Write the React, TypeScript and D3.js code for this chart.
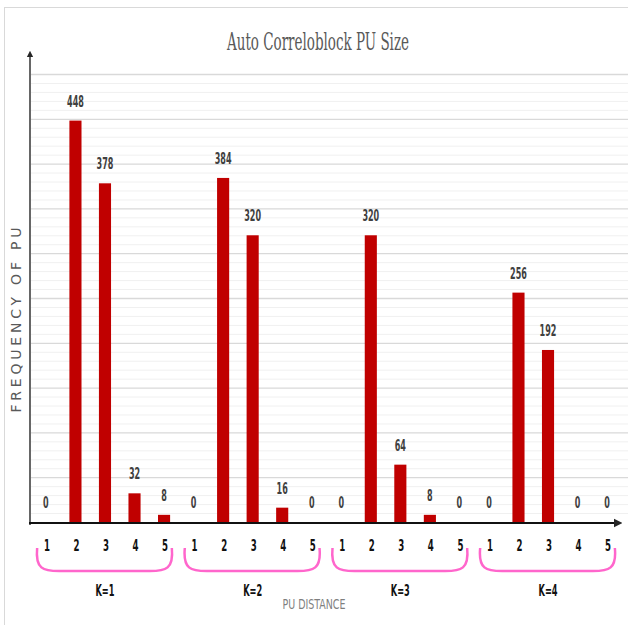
import React, { useEffect, useRef } from "react";
import * as d3 from "d3";

const groups = ["K=1", "K=2", "K=3", "K=4"];
const distances = ["1", "2", "3", "4", "5"];
const k1Values = [0, 448, 378, 32, 8];
const k2Values = [0, 384, 320, 16, 0];
const k3Values = [0, 320, 64, 8, 0];
const k4Values = [0, 256, 192, 0, 0];
const seriesValues = [k1Values, k2Values, k3Values, k4Values];

const title = "Auto Correloblock PU Size";
const xAxisLabel = "PU DISTANCE";
const yAxisLabel = "FREQUENCY OF PU";

type Row = { key: string; group: string; dist: string; value: number };

const condensed = "'DejaVu Sans Condensed', 'Liberation Sans Narrow', 'Arial Narrow', sans-serif";

const App = () => {
  const ref = useRef<SVGSVGElement>(null);
  const width = 628;
  const height = 625;
  const margin = { top: 74, right: 6, bottom: 103, left: 31 };

  useEffect(() => {
    const svg = d3.select(ref.current);
    svg.selectAll("*").remove();

    const rows: Row[] = [];
    groups.forEach((g, gi) =>
      distances.forEach((d, di) =>
        rows.push({ key: `${g}-${d}`, group: g, dist: d, value: seriesValues[gi][di] })
      )
    );

    const baseY = height - margin.bottom;
    const x = d3
      .scaleBand()
      .domain(rows.map((r) => r.key))
      .range([margin.left, width - margin.right])
      .paddingInner(0.59)
      .paddingOuter(0.3);
    const y = d3.scaleLinear().domain([0, 500]).range([baseY, margin.top]);

    // outer border
    svg
      .append("rect")
      .attr("x", 4.5)
      .attr("y", 7.5)
      .attr("width", 700)
      .attr("height", 700)
      .attr("fill", "#fff")
      .attr("stroke", "#d9d9d9");

    // title
    svg
      .append("text")
      .attr("x", 318)
      .attr("y", 50)
      .attr("text-anchor", "middle")
      .attr("font-family", "'DejaVu Serif Condensed', 'Liberation Serif', serif")
      .attr("font-size", 24)
      .attr("fill", "#595959")
      .attr("textLength", 182)
      .attr("lengthAdjust", "spacingAndGlyphs")
      .text(title);

    // gridlines
    const grid = svg.append("g");
    y.ticks(50)
      .filter((t) => t > 0)
      .forEach((t) => {
        grid
          .append("line")
          .attr("x1", margin.left)
          .attr("x2", width)
          .attr("y1", y(t) + 0.5)
          .attr("y2", y(t) + 0.5)
          .attr("stroke", t % 50 === 0 ? "#d9d9d9" : "#f0f0f0")
          .attr("stroke-width", t % 50 === 0 ? 1.3 : 1);
      });

    // bars
    svg
      .append("g")
      .selectAll("rect")
      .data(rows)
      .join("rect")
      .attr("x", (d) => x(d.key)!)
      .attr("width", x.bandwidth())
      .attr("y", (d) => y(d.value))
      .attr("height", (d) => baseY - y(d.value))
      .attr("fill", "#c00000");

    // value labels
    svg
      .append("g")
      .selectAll("text")
      .data(rows)
      .join("text")
      .attr("x", (d) => x(d.key)! + x.bandwidth() / 2)
      .attr("y", (d) => y(d.value) - 14)
      .attr("text-anchor", "middle")
      .attr("font-family", condensed)
      .attr("font-weight", "bold")
      .attr("font-size", 15)
      .attr("fill", "#404040")
      .attr("textLength", (d) => String(d.value).length * 5.6)
      .attr("lengthAdjust", "spacingAndGlyphs")
      .text((d) => d.value);

    // axes
    const defs = svg.append("defs");
    defs
      .append("marker")
      .attr("id", "arrowY")
      .attr("viewBox", "0 0 10 10")
      .attr("refX", 5)
      .attr("refY", 5)
      .attr("markerWidth", 4)
      .attr("markerHeight", 5)
      .attr("orient", "auto")
      .append("path")
      .attr("d", "M0,0 L10,5 L0,10 z")
      .attr("fill", "#262626");

    svg
      .append("line")
      .attr("x1", 30)
      .attr("x2", 30)
      .attr("y1", baseY + 3)
      .attr("y2", 54)
      .attr("stroke", "#404040")
      .attr("stroke-width", 1.6)
      .attr("marker-end", "url(#arrowY)");

    svg
      .append("line")
      .attr("x1", 29)
      .attr("x2", 618)
      .attr("y1", baseY + 1)
      .attr("y2", baseY + 1)
      .attr("stroke", "#111")
      .attr("stroke-width", 2.2)
      .attr("marker-end", "url(#arrowY)");

    // category tick labels
    svg
      .append("g")
      .selectAll("text")
      .data(rows)
      .join("text")
      .attr("x", (d) => x(d.key)! + x.bandwidth() / 2 + 1)
      .attr("y", 551)
      .attr("text-anchor", "middle")
      .attr("font-family", condensed)
      .attr("font-weight", "bold")
      .attr("font-size", 15)
      .attr("fill", "#111")
      .attr("textLength", 6)
      .attr("lengthAdjust", "spacingAndGlyphs")
      .text((d) => d.dist);

    // group braces and labels
    const step = x.step();
    groups.forEach((g) => {
      const first = x(`${g}-${distances[0]}`)! + x.bandwidth() / 2;
      const last = x(`${g}-${distances[distances.length - 1]}`)! + x.bandwidth() / 2;
      const x1 = first - step / 2 + 6;
      const x2 = last + step / 2 - 7;
      const top = 548;
      const bot = 571;
      svg
        .append("path")
        .attr(
          "d",
          `M${x1},${top} C${x1 - 2},${bot - 2} ${x1 + 6},${bot} ${x1 + 22},${bot} L${x2 - 22},${bot} C${x2 - 6},${bot} ${x2 + 2},${bot - 2} ${x2},${top}`
        )
        .attr("fill", "none")
        .attr("stroke", "#ff66cc")
        .attr("stroke-width", 2.5);
      svg
        .append("text")
        .attr("x", (first + last) / 2)
        .attr("y", 596)
        .attr("text-anchor", "middle")
        .attr("font-family", condensed)
        .attr("font-weight", "bold")
        .attr("font-size", 16)
        .attr("fill", "#111")
        .attr("textLength", 19)
        .attr("lengthAdjust", "spacingAndGlyphs")
        .text(g);
    });

    // axis titles
    svg
      .append("text")
      .attr("x", 314)
      .attr("y", 609)
      .attr("text-anchor", "middle")
      .attr("font-family", condensed)
      .attr("font-size", 14)
      .attr("fill", "#7f7f7f")
      .attr("textLength", 63)
      .attr("lengthAdjust", "spacingAndGlyphs")
      .text(xAxisLabel);

    svg
      .append("text")
      .attr("transform", "translate(21,320) rotate(-90)")
      .attr("text-anchor", "middle")
      .attr("font-family", "'DejaVu Sans', sans-serif")
      .attr("font-size", 14)
      .attr("fill", "#595959")
      .attr("textLength", 185)
      .attr("lengthAdjust", "spacing")
      .text(yAxisLabel);
  }, []);

  return (
    <svg
      ref={ref}
      width={width}
      height={height}
      style={{ position: "absolute", left: 0, top: 0, display: "block", background: "#fff" }}
    />
  );
};

export default App;
